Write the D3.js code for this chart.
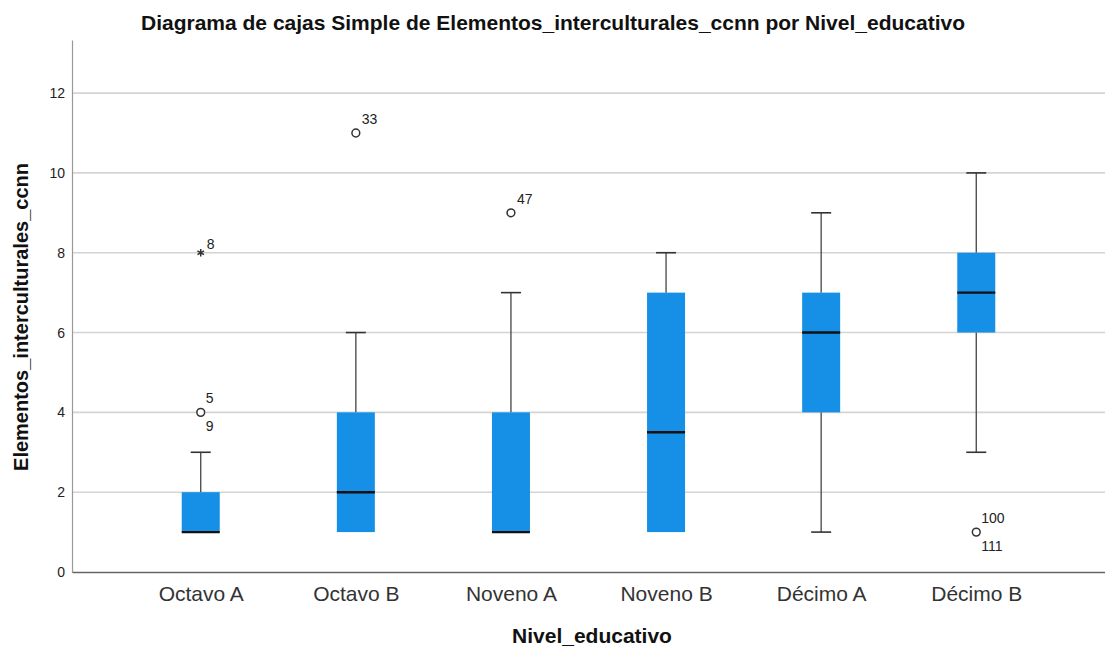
<!DOCTYPE html>
<html>
<head>
<meta charset="utf-8">
<script src="https://cdn.jsdelivr.net/npm/d3@7"></script>
<style>
  html, body { margin: 0; padding: 0; background: #fff; }
  svg { display: block; font-family: "Liberation Sans", Arial, sans-serif; }
</style>
</head>
<body>
<svg id="chart" width="1105" height="648"></svg>
<script>
// ---- Data ----
const categories = ["Octavo A", "Octavo B", "Noveno A", "Noveno B", "Décimo A", "Décimo B"];
const whiskerLow  = [1, 1, 1, 1, 1, 3];
const q1Values    = [1, 1, 1, 1, 4, 6];
const medians     = [1, 2, 1, 3.5, 6, 7];
const q3Values    = [2, 4, 4, 7, 7, 8];
const whiskerHigh = [3, 6, 7, 8, 9, 10];
// outliers: category index, value, type, labels
const outlierCat    = [0, 0, 1, 2, 5];
const outlierValue  = [4, 8, 11, 9, 1];
const outlierType   = ["circle", "star", "circle", "circle", "circle"];
const outlierLabels = [["5", "9"], ["8"], ["33"], ["47"], ["100", "111"]];
const yTicks = [0, 2, 4, 6, 8, 10, 12];

const title = "Diagrama de cajas Simple de Elementos_interculturales_ccnn por Nivel_educativo";
const xTitle = "Nivel_educativo";
const yTitle = "Elementos_interculturales_ccnn";

(function () {
// ---- Layout ----
const svg = d3.select("#chart");
const pLeft = 72, pRight = 1105, pTop = 40, pBottom = 572;

const y = d3.scaleLinear().domain([0, 13.33]).range([pBottom, pTop]);
const x = d3.scalePoint().domain(categories).range([pLeft, pRight]).padding(0.83);

const boxW = 38, capW = 20;

// gridlines
svg.append("g").selectAll("line").data(yTicks.filter(d => d > 0)).join("line")
  .attr("x1", pLeft).attr("x2", pRight)
  .attr("y1", d => y(d)).attr("y2", d => y(d))
  .attr("stroke", "#d4d4d4").attr("stroke-width", 1.6);

// y axis
const yAxis = d3.axisLeft(y).tickValues(yTicks).tickSize(0).tickPadding(7);
const gy = svg.append("g").attr("transform", `translate(${pLeft},0)`).call(yAxis);
gy.select(".domain").attr("stroke", "#999").attr("stroke-width", 1.2);
gy.selectAll("text").attr("font-size", 14).attr("fill", "#222")
  .attr("font-family", "Liberation Sans, Arial, sans-serif");

// x axis
const xAxis = d3.axisBottom(x).tickSize(0).tickPadding(14);
const gx = svg.append("g").attr("transform", `translate(0,${pBottom})`).call(xAxis);
gx.select(".domain").attr("stroke", "#666").attr("stroke-width", 1.6);
gx.selectAll("text").attr("font-size", 21).attr("fill", "#333")
  .attr("font-family", "Liberation Sans, Arial, sans-serif");

// boxes
const rows = categories.map((c, i) => ({
  c, lo: whiskerLow[i], q1: q1Values[i], med: medians[i], q3: q3Values[i], hi: whiskerHigh[i]
}));
const g = svg.append("g");
rows.forEach(r => {
  const cx = x(r.c);
  if (r.hi > r.q3) {
    g.append("line").attr("x1", cx).attr("x2", cx).attr("y1", y(r.q3)).attr("y2", y(r.hi))
      .attr("stroke", "#444").attr("stroke-width", 1.3);
    g.append("line").attr("x1", cx - capW / 2).attr("x2", cx + capW / 2).attr("y1", y(r.hi)).attr("y2", y(r.hi))
      .attr("stroke", "#333").attr("stroke-width", 1.6);
  }
  if (r.lo < r.q1) {
    g.append("line").attr("x1", cx).attr("x2", cx).attr("y1", y(r.q1)).attr("y2", y(r.lo))
      .attr("stroke", "#444").attr("stroke-width", 1.3);
    g.append("line").attr("x1", cx - capW / 2).attr("x2", cx + capW / 2).attr("y1", y(r.lo)).attr("y2", y(r.lo))
      .attr("stroke", "#333").attr("stroke-width", 1.6);
  }
  g.append("rect").attr("x", cx - boxW / 2).attr("width", boxW)
    .attr("y", y(r.q3)).attr("height", Math.max(0, y(r.q1) - y(r.q3)))
    .attr("fill", "#1690e6");
  g.append("line").attr("x1", cx - boxW / 2).attr("x2", cx + boxW / 2)
    .attr("y1", y(r.med)).attr("y2", y(r.med))
    .attr("stroke", "#111").attr("stroke-width", 2.4);
});

// outliers
outlierValue.forEach((v, i) => {
  const cx = x(categories[outlierCat[i]]);
  const cy = y(v);
  if (outlierType[i] === "circle") {
    g.append("circle").attr("cx", cx).attr("cy", cy).attr("r", 3.9)
      .attr("fill", "#fff").attr("stroke", "#333").attr("stroke-width", 1.5);
  } else {
    g.append("path").attr("transform", `translate(${cx},${cy})`)
      .attr("d", d3.symbol(d3.symbolAsterisk, 40)())
      .attr("stroke", "#333").attr("stroke-width", 1.5).attr("fill", "none");
  }
  const labs = outlierLabels[i];
  if (labs.length === 1) {
    const dy = outlierType[i] === "star" ? -4 : -9;
    g.append("text").attr("x", cx + 6).attr("y", cy + dy).text(labs[0])
      .attr("font-size", 14).attr("fill", "#222");
  } else {
    g.append("text").attr("x", cx + 5).attr("y", cy - 9).text(labs[0])
      .attr("font-size", 14).attr("fill", "#222");
    g.append("text").attr("x", cx + 5).attr("y", cy + 19).text(labs[1])
      .attr("font-size", 14).attr("fill", "#222");
  }
});

// titles
svg.append("text").attr("x", 553).attr("y", 30).attr("text-anchor", "middle")
  .attr("font-size", 21).attr("font-weight", "bold").attr("fill", "#111").text(title);
svg.append("text").attr("x", 592).attr("y", 643).attr("text-anchor", "middle")
  .attr("font-size", 21).attr("font-weight", "bold").attr("fill", "#111").text(xTitle);
svg.append("text").attr("transform", `translate(28,${(pTop + pBottom) / 2 + 11}) rotate(-90)`)
  .attr("text-anchor", "middle")
  .attr("font-size", 20).attr("font-weight", "bold").attr("fill", "#111").text(yTitle);
})();
</script>
</body>
</html>
